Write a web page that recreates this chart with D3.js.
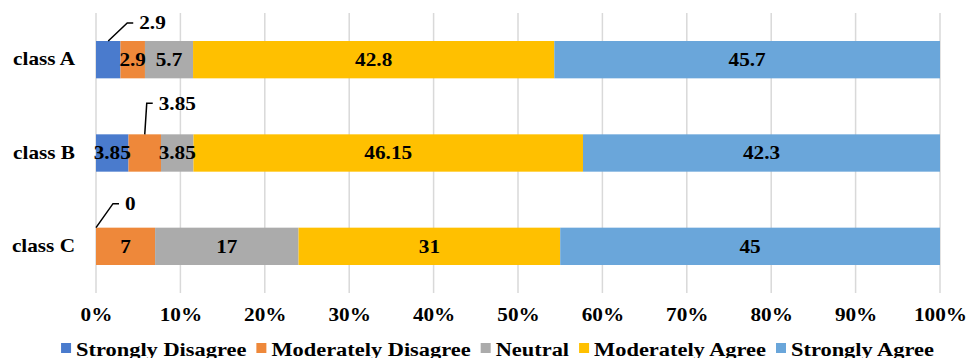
<!DOCTYPE html>
<html>
<head>
<meta charset="utf-8">
<script src="https://cdn.jsdelivr.net/npm/d3@7/dist/d3.min.js"></script>
<style>
  html, body { margin: 0; padding: 0; background: #fff; }
  svg { display: block; }
  text { font-family: "Liberation Serif", "Times New Roman", serif; font-weight: bold; fill: #000; }
</style>
</head>
<body>
<svg id="chart" width="967" height="358"></svg>
<script>
// Survey responses per class, in percent
const categories = ["class A", "class B", "class C"];
const seriesNames = ["Strongly Disagree", "Moderately Disagree", "Neutral", "Moderately Agree", "Strongly Agree"];
const stronglyDisagree = [2.9, 3.85, 0];
const moderatelyDisagree = [2.9, 3.85, 7];
const neutral = [5.7, 3.85, 17];
const moderatelyAgree = [42.8, 46.15, 31];
const stronglyAgree = [45.7, 42.3, 45];
const tickValues = [0, 10, 20, 30, 40, 50, 60, 70, 80, 90, 100];
const colors = ["#4A7BCD", "#EE883A", "#ABABAB", "#FFC000", "#6AA6DA"];

// Which segment of each bar gets a leader-line label instead of an inside label
const calloutSeries = [0, 1, 0];
// Leader line elbow offsets (dx, dy) from the segment's top-centre, then a short horizontal run
const calloutElbow = [[19, -18], [2, -31], [17, -24]];
const calloutRun = 6;

const allSeries = [stronglyDisagree, moderatelyDisagree, neutral, moderatelyAgree, stronglyAgree];
const rows = categories.map((c, i) => {
  const r = { category: c };
  seriesNames.forEach((s, j) => { r[s] = allSeries[j][i]; });
  return r;
});

const svg = d3.select("#chart");
const stretch = 1.18;   // horizontally widened serif text
const fontSize = 18;
const legendFontSize = 19;

const x = d3.scaleLinear().domain([0, 100]).range([96, 940]);
const y = d3.scaleBand().domain(categories).range([13, 293]).paddingInner(0.6).paddingOuter(0.3);

// Vertical gridlines
svg.append("g").selectAll("line").data(tickValues).join("line")
  .attr("x1", d => x(d)).attr("x2", d => x(d))
  .attr("y1", 13).attr("y2", 293)
  .attr("stroke", "#d9d9d9").attr("stroke-width", 1.5);

// Stacked bars
const stack = d3.stack().keys(seriesNames);
const layers = stack(rows);

const layerG = svg.append("g").selectAll("g").data(layers).join("g")
  .attr("fill", (d, i) => colors[i]);
layerG.selectAll("rect").data(d => d).join("rect")
  .attr("x", d => x(d[0]))
  .attr("width", d => x(d[1]) - x(d[0]))
  .attr("y", d => y(d.data.category))
  .attr("height", y.bandwidth());

// Inside value labels
const labelG = svg.append("g").attr("font-size", fontSize);
layers.forEach((layer, si) => {
  layer.forEach((d, ci) => {
    if (calloutSeries[ci] === si) return;
    const cx = (x(d[0]) + x(d[1])) / 2;
    const cy = y(d.data.category) + y.bandwidth() / 2;
    labelG.append("text")
      .attr("transform", `translate(${cx},${cy}) scale(${stretch},1)`)
      .attr("text-anchor", "middle")
      .attr("dy", "0.35em")
      .text(allSeries[si][ci]);
  });
});

// Leader-line labels
const calloutG = svg.append("g").attr("font-size", fontSize);
categories.forEach((c, ci) => {
  const si = calloutSeries[ci];
  const d = layers[si][ci];
  const x0 = (x(d[0]) + x(d[1])) / 2;
  const y0 = y(c);
  const [dx, dy] = calloutElbow[ci];
  const ex = x0 + dx, ey = y0 + dy;
  calloutG.append("path")
    .attr("d", `M${x0},${y0}L${ex},${ey}L${ex + calloutRun},${ey}`)
    .attr("fill", "none").attr("stroke", "#000").attr("stroke-width", 1.5);
  calloutG.append("text")
    .attr("transform", `translate(${ex + calloutRun + 6},${ey}) scale(${stretch},1)`)
    .attr("dy", "0.35em")
    .text(allSeries[si][ci]);
});

// Bottom axis labels
const xAxis = svg.append("g").attr("transform", "translate(0,293)")
  .call(d3.axisBottom(x).tickValues(tickValues).tickSize(0).tickFormat(d => d + "%"));
xAxis.select(".domain").remove();
xAxis.selectAll("text")
  .attr("font-size", fontSize).attr("font-family", null)
  .attr("y", 28).attr("dy", 0)
  .attr("transform", `scale(${stretch},1)`);

// Category axis labels
const yAxis = svg.append("g").attr("transform", `translate(${x(0)},0)`)
  .call(d3.axisLeft(y).tickSize(0));
yAxis.select(".domain").remove();
yAxis.selectAll("text")
  .attr("font-size", fontSize).attr("font-family", null)
  .attr("x", 0)
  .attr("transform", `translate(-21,0) scale(${stretch},1)`);

// Legend, laid out from measured text widths and centred
const legend = svg.append("g").attr("font-size", legendFontSize);
const markerSize = 10, markerGap = 5, itemGap = 10;
const items = seriesNames.map((name, i) => {
  const g = legend.append("g");
  g.append("rect").attr("width", markerSize).attr("height", markerSize)
    .attr("y", -markerSize / 2 - 1).attr("fill", colors[i]);
  const t = g.append("text")
    .attr("transform", `translate(${markerSize + markerGap},0) scale(${stretch},1)`)
    .attr("dy", "0.35em").text(name);
  return { g, w: markerSize + markerGap + t.node().getComputedTextLength() * stretch };
});
const total = d3.sum(items, d => d.w) + itemGap * (items.length - 1);
let lx = 497.5 - total / 2;
items.forEach(it => {
  it.g.attr("transform", `translate(${lx},349)`);
  lx += it.w + itemGap;
});
</script>
</body>
</html>
